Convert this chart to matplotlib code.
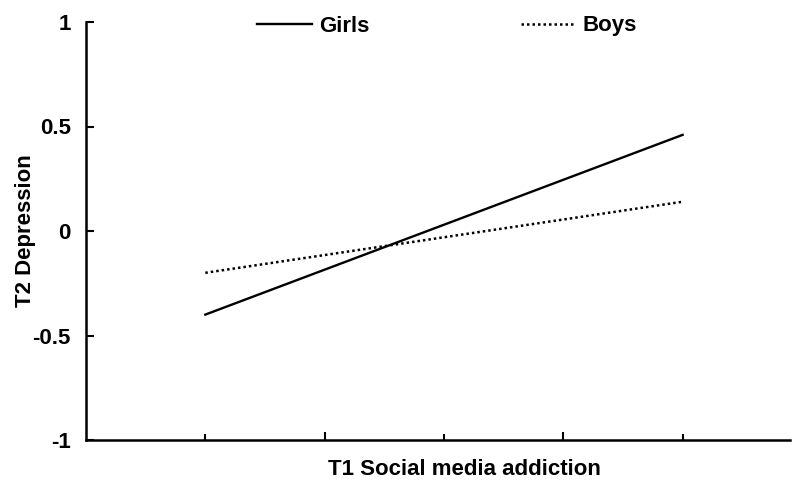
import matplotlib.pyplot as plt

plt.rcParams['font.family'] = ['Liberation Sans', 'DejaVu Sans']
plt.rcParams['font.weight'] = 'bold'

# simple slopes: low / high social media addiction
x = [1, 5]
girls = [-0.40, 0.46]
boys = [-0.20, 0.14]
yticks = [-1, -0.5, 0, 0.5, 1]
ytick_labels = ['-1', '-0.5', '0', '0.5', '1']

fs = 16

fig = plt.figure(figsize=(7.93, 4.83), dpi=100)
ax = fig.add_axes([86 / 793, 43 / 483, 704 / 793, 418 / 483])

ax.plot(x, girls, color='black', lw=1.7, ls='-', label='Girls')
ax.plot(x, boys, color='black', lw=1.8, ls=(0, (1, 1.2)), label='Boys')

ax.set_xlim(0, 5.9)
ax.set_ylim(-1, 1)
ax.set_yticks(yticks)
ax.set_yticklabels(ytick_labels, fontsize=fs, fontweight='bold')
ax.set_xticks([2, 4])
ax.set_xticks([1, 3, 5], minor=True)
ax.set_xticklabels([])
ax.tick_params(axis='y', direction='in', length=6, width=1.5, pad=11)
ax.tick_params(axis='x', which='major', direction='in', length=6, width=1.5)
ax.tick_params(axis='x', which='minor', direction='in', length=4, width=1.5)

for s in ['top', 'right']:
    ax.spines[s].set_visible(False)
for s in ['left', 'bottom']:
    ax.spines[s].set_linewidth(1.8)

ax.set_ylabel('T2 Depression', fontsize=fs, fontweight='bold')
ax.yaxis.set_label_coords(-0.071, 0.5)
ax.set_xlabel('T1 Social media addiction', fontsize=fs, fontweight='bold')
ax.xaxis.set_label_coords(0.537, -0.045)

ax.legend(loc='center', bbox_to_anchor=((447 - 86) / 704, 1 - 4 / 418), ncol=2,
          frameon=False, handlelength=2.5, handletextpad=0.3, columnspacing=6.8,
          prop={'size': fs, 'weight': 'bold'})

fig.savefig('out.png', dpi=100)
